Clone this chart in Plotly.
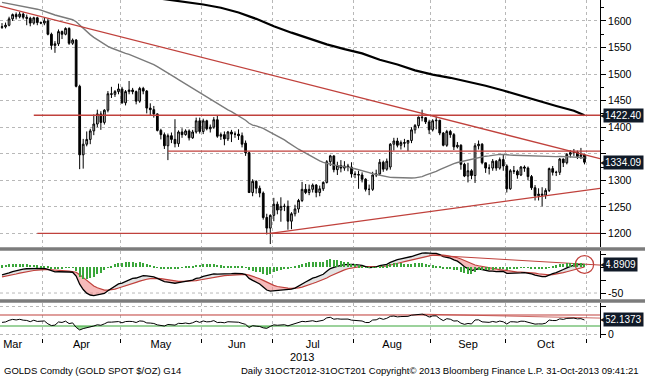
import numpy as np
import pandas as pd
import plotly.graph_objects as go

# ---------------- data ----------------
# closes before the visible window (only used to warm up the 50d MA, MACD and RSI)
WARMUP_CLOSE = [1688, 1664, 1656, 1646, 1659, 1655, 1677, 1662, 1669, 1683, 1682, 1689, 1687, 1692, 1692, 1685,
                1669, 1657, 1654, 1662, 1677, 1663,
                1667, 1674, 1675, 1677, 1671, 1667, 1649, 1648, 1645, 1636, 1609, 1610, 1603, 1564, 1577, 1572,
                1595, 1614, 1596, 1578,
                1576, 1572, 1574, 1583, 1577, 1578, 1577, 1590, 1588]

DATES = pd.bdate_range("2013-03-14", "2013-10-31")

OPEN = [1588, 1589, 1592, 1604, 1612, 1608, 1613, 1607, 1605, 1596, 1606, 1597,
        1596, 1600, 1575, 1554, 1557, 1580, 1575, 1586, 1558, 1564, 1477, 1348, 1368, 1377, 1393, 1406, 1425, 1409, 1432, 1463, 1462, 1467,
        1472, 1446, 1467, 1470, 1467, 1449, 1473, 1468, 1436, 1433, 1425, 1394, 1386, 1365, 1384, 1377, 1369, 1391, 1386, 1393, 1380, 1391, 1412,
        1392, 1412, 1397, 1400, 1414, 1383, 1386, 1378, 1391, 1387, 1387, 1384, 1370, 1352, 1277, 1298, 1285, 1276, 1230, 1210,
        1234, 1255, 1244, 1251, 1251, 1223, 1237, 1246, 1262, 1283, 1277, 1283, 1291, 1277, 1284, 1296, 1335, 1346, 1320, 1328, 1323, 1327, 1325,
        1312, 1311, 1310, 1302, 1283, 1283, 1310, 1312, 1334, 1321, 1325, 1368, 1374, 1366, 1371, 1370, 1375, 1395, 1403, 1419, 1418, 1410,
        1395, 1412, 1413, 1389, 1366, 1392, 1386, 1363, 1366, 1330, 1308, 1318, 1309, 1365, 1368, 1333, 1323, 1323, 1336, 1323, 1339,
        1327, 1284, 1318, 1317, 1310, 1325, 1323, 1307, 1286, 1271, 1274, 1272, 1281, 1322, 1315, 1315, 1340, 1333, 1349, 1352, 1353, 1345, 1348]
HIGH = [1596, 1597, 1608, 1614, 1616, 1617, 1616, 1612, 1608, 1608, 1608, 1599,
        1606, 1604, 1578, 1562, 1584, 1582, 1588, 1588, 1567, 1566, 1480, 1378, 1392, 1397, 1424, 1433, 1430, 1434, 1468, 1476, 1470, 1482,
        1476, 1470, 1487, 1474, 1469, 1476, 1476, 1470, 1445, 1440, 1426, 1397, 1390, 1388, 1390, 1415, 1394, 1398, 1396, 1396, 1395, 1418, 1418,
        1416, 1414, 1405, 1419, 1423, 1390, 1392, 1393, 1395, 1392, 1396, 1390, 1375, 1354, 1302, 1300, 1290, 1279, 1237, 1236,
        1267, 1260, 1268, 1256, 1262, 1240, 1254, 1265, 1297, 1293, 1292, 1294, 1293, 1290, 1298, 1338, 1348, 1347, 1335, 1338, 1336, 1331, 1334,
        1317, 1318, 1315, 1304, 1292, 1316, 1320, 1340, 1337, 1341, 1370, 1380, 1380, 1375, 1378, 1376, 1400, 1406, 1420, 1433, 1419, 1414,
        1415, 1420, 1414, 1391, 1395, 1395, 1389, 1372, 1368, 1333, 1333, 1321, 1370, 1375, 1370, 1333, 1330, 1340, 1338, 1343, 1348,
        1330, 1321, 1327, 1320, 1327, 1328, 1326, 1310, 1291, 1285, 1287, 1285, 1324, 1327, 1318, 1342, 1341, 1351, 1357, 1359, 1356, 1361, 1350]
LOW = [1585, 1586, 1590, 1600, 1603, 1605, 1603, 1592, 1590, 1593, 1592, 1594,
       1592, 1573, 1546, 1540, 1553, 1566, 1573, 1555, 1555, 1475, 1321, 1322, 1364, 1368, 1385, 1400, 1395, 1405, 1428, 1455, 1457, 1462,
       1444, 1441, 1462, 1462, 1443, 1446, 1462, 1426, 1422, 1418, 1392, 1377, 1359, 1338, 1370, 1362, 1363, 1380, 1384, 1375, 1378, 1388, 1388,
       1387, 1394, 1390, 1397, 1380, 1376, 1366, 1374, 1372, 1380, 1376, 1362, 1346, 1276, 1270, 1275, 1268, 1226, 1198, 1180,
       1223, 1236, 1222, 1242, 1207, 1208, 1232, 1239, 1259, 1274, 1272, 1277, 1268, 1270, 1280, 1294, 1327, 1315, 1310, 1315, 1318, 1317, 1305,
       1304, 1284, 1296, 1279, 1272, 1280, 1306, 1310, 1316, 1318, 1320, 1356, 1362, 1358, 1362, 1355, 1370, 1388, 1398, 1411, 1406, 1387,
       1392, 1396, 1385, 1364, 1363, 1380, 1357, 1360, 1320, 1306, 1296, 1302, 1295, 1358, 1330, 1314, 1311, 1318, 1318, 1320, 1318,
       1277, 1282, 1312, 1303, 1308, 1316, 1300, 1282, 1262, 1262, 1251, 1265, 1278, 1309, 1308, 1310, 1325, 1330, 1343, 1346, 1340, 1340, 1330]
CLOSE = [1589, 1592, 1604, 1612, 1608, 1613, 1607, 1605, 1596, 1606, 1597, 1596,
         1600, 1575, 1554, 1557, 1580, 1575, 1586, 1558, 1564, 1477, 1348, 1368, 1377, 1393, 1406, 1425, 1409, 1432, 1463, 1462, 1467, 1472,
         1446, 1467, 1470, 1467, 1449, 1473, 1468, 1436, 1433, 1425, 1394, 1386, 1365, 1384, 1377, 1369, 1391, 1386, 1393, 1380, 1391, 1412, 1392,
         1412, 1397, 1400, 1414, 1383, 1386, 1378, 1391, 1387, 1387, 1384, 1368, 1352, 1277, 1298, 1285, 1276, 1230, 1210, 1234,
         1255, 1244, 1251, 1251, 1223, 1237, 1246, 1262, 1283, 1277, 1283, 1291, 1277, 1284, 1296, 1335, 1346, 1320, 1328, 1323, 1327, 1325, 1312,
         1311, 1310, 1302, 1283, 1283, 1310, 1312, 1334, 1321, 1336, 1368, 1374, 1366, 1371, 1370, 1375, 1395, 1403, 1419, 1418, 1410, 1395,
         1412, 1413, 1389, 1366, 1392, 1386, 1363, 1366, 1330, 1308, 1318, 1309, 1365, 1368, 1333, 1323, 1323, 1336, 1323, 1339, 1327,
         1284, 1318, 1317, 1310, 1325, 1323, 1307, 1286, 1271, 1274, 1272, 1281, 1322, 1315, 1315, 1340, 1333, 1349, 1352, 1353, 1345, 1348, 1334.09]

# 200-day moving average
MA200_DATES = ["2013-03-14", "2013-04-01", "2013-04-15", "2013-05-01", "2013-05-13", "2013-05-20", "2013-05-27",
               "2013-06-03", "2013-06-10", "2013-06-17", "2013-06-24", "2013-07-01", "2013-07-08", "2013-07-15",
               "2013-07-22", "2013-07-29", "2013-08-05", "2013-08-12", "2013-08-19", "2013-08-26", "2013-09-02",
               "2013-09-09", "2013-09-16", "2013-09-23", "2013-09-30", "2013-10-07", "2013-10-14", "2013-10-21",
               "2013-10-28", "2013-10-31"]
MA200 = [1672, 1667, 1661, 1652, 1645, 1641, 1636, 1631, 1625, 1616, 1604, 1590, 1578, 1567, 1556, 1547, 1539,
         1527, 1518, 1507, 1499, 1493, 1486, 1478, 1469, 1459, 1449, 1440, 1431, 1422.4]

# drawn support / resistance levels
LEVELS = [1422.40, 1355.0, 1200.0]
LEVEL_START = ["2013-03-27", "2013-05-20", "2013-03-28"]
# drawn trend lines (two anchor points each)
TREND_DOWN_DATES, TREND_DOWN_VALS = ["2013-03-21", "2013-08-28"], [1618.7, 1426.0]
TREND_UP_DATES, TREND_UP_VALS = ["2013-06-28", "2013-10-31"], [1200.0, 1281.0]
MACD_TREND_DATES, MACD_TREND_VALS = ["2013-08-30", "2013-10-31"], [23.0, 5.5]
RSI_TREND_DATES, RSI_TREND_VALS = ["2013-08-28", "2013-10-31"], [73.0, 60.0]

LAST_PRICE_TXT, MA200_TXT, MACD_TXT, RSI_TXT = "1334.09", "1422.40", "4.8909", "52.1373"
LAST_PRICE, MACD_LAST, RSI_LAST = 1334.09, 4.8909, 52.1373

PRICE_TICKS = [1200, 1250, 1300, 1350, 1400, 1450, 1500, 1550, 1600]
PRICE_TICKTEXT = ["1200", "1250", "1300", "", "1400", "1450", "1500", "1550", "1600"]

# ---------------- derived series ----------------
n = len(DATES)
k = np.arange(n)
pos = {d: i for i, d in enumerate(DATES.strftime("%Y-%m-%d"))}
allc = np.array(WARMUP_CLOSE + CLOSE, dtype=float)
nw = len(WARMUP_CLOSE)

ma50 = pd.Series(allc).rolling(50).mean().values[nw:]


def ema(x, span):
    a = 2.0 / (span + 1)
    out = np.empty_like(x)
    out[0] = x[0]
    for i in range(1, len(x)):
        out[i] = a * x[i] + (1 - a) * out[i - 1]
    return out


macd_all = ema(allc, 12) - ema(allc, 26)
sig_all = ema(macd_all, 9)
macd, sig = macd_all[nw:], sig_all[nw:]
hist = macd - sig

d = np.diff(allc)
g, l_ = np.clip(d, 0, None), np.clip(-d, 0, None)
ag, al = np.empty(len(d)), np.empty(len(d))
ag[13], al[13] = g[:14].mean(), l_[:14].mean()
for i in range(14, len(d)):
    ag[i] = (ag[i - 1] * 13 + g[i]) / 14
    al[i] = (al[i - 1] * 13 + l_[i]) / 14
rsi_all = 100 - 100 / (1 + ag / np.where(al == 0, 1e-9, al))
rsi = np.concatenate([[np.nan], rsi_all])[nw:]

months = DATES.month
bounds = [i - 0.5 for i in range(1, n) if months[i] != months[i - 1]] + [n - 0.5]
mstarts = [0] + [i for i in range(1, n) if months[i] != months[i - 1]]
mends = mstarts[1:] + [n]
label_pos = [(s + e - 1) / 2 for s, e in zip(mstarts, mends)]
label_pos[0] = 3.0  # partially visible first month
label_txt = [DATES[s].strftime("%b") for s in mstarts]

XR = [-0.57, 169.4]

RED = "#c0413c"
GRID = "#b8b8b8"
BOX = "#101a28"
FONT = "Liberation Sans, Arial, sans-serif"

fig = go.Figure()

# ---------------- main panel ----------------
fig.add_trace(go.Scatter(x=[pos[s] for s in MA200_DATES], y=MA200, mode="lines",
                         line=dict(color="black", width=2.2), xaxis="x", yaxis="y"))
fig.add_trace(go.Scatter(x=k, y=ma50, mode="lines", line=dict(color="#7a7a7a", width=1.4),
                         xaxis="x", yaxis="y"))
for lv, st in zip(LEVELS, LEVEL_START):
    fig.add_trace(go.Scatter(x=[pos[st], XR[1]], y=[lv, lv], mode="lines",
                             line=dict(color=RED, width=1.4), xaxis="x", yaxis="y"))
xa, xb = pos[TREND_DOWN_DATES[0]], pos[TREND_DOWN_DATES[1]]
sl = (TREND_DOWN_VALS[1] - TREND_DOWN_VALS[0]) / (xb - xa)
fig.add_trace(go.Scatter(x=XR, y=[TREND_DOWN_VALS[0] + sl * (x - xa) for x in XR], mode="lines",
                         line=dict(color=RED, width=1.3), xaxis="x", yaxis="y"))
xa, xb = pos[TREND_UP_DATES[0]], pos[TREND_UP_DATES[1]]
sl = (TREND_UP_VALS[1] - TREND_UP_VALS[0]) / (xb - xa)
fig.add_trace(go.Scatter(x=[xa, XR[1]], y=[TREND_UP_VALS[0], TREND_UP_VALS[0] + sl * (XR[1] - xa)], mode="lines",
                         line=dict(color=RED, width=1.3), xaxis="x", yaxis="y"))
fig.add_trace(go.Candlestick(x=k, open=OPEN, high=HIGH, low=LOW, close=CLOSE,
                             increasing=dict(line=dict(color="black", width=1), fillcolor="#c4c4c4"),
                             decreasing=dict(line=dict(color="black", width=1), fillcolor="black"),
                             whiskerwidth=0, xaxis="x", yaxis="y"))

# ---------------- MACD panel ----------------
fig.add_trace(go.Bar(x=k, y=hist, marker=dict(color="#3aa63a", line=dict(width=0)), width=0.3,
                     xaxis="x2", yaxis="y4"))
fig.add_trace(go.Scatter(x=k, y=sig, mode="lines", line=dict(width=0), xaxis="x2", yaxis="y2"))
fig.add_trace(go.Scatter(x=k, y=np.minimum(macd, sig), mode="lines", line=dict(width=0), fill="tonexty",
                         fillcolor="rgba(240,140,140,0.6)", xaxis="x2", yaxis="y2"))
fig.add_trace(go.Scatter(x=k, y=sig, mode="lines", line=dict(width=0), xaxis="x2", yaxis="y2"))
fig.add_trace(go.Scatter(x=k, y=np.maximum(macd, sig), mode="lines", line=dict(width=0), fill="tonexty",
                         fillcolor="rgba(200,200,200,0.5)", xaxis="x2", yaxis="y2"))
fig.add_trace(go.Scatter(x=k, y=sig, mode="lines", line=dict(color=RED, width=1.2), xaxis="x2", yaxis="y2"))
fig.add_trace(go.Scatter(x=k, y=macd, mode="lines", line=dict(color="black", width=1.3), xaxis="x2", yaxis="y2"))
xa, xb = pos[MACD_TREND_DATES[0]], pos[MACD_TREND_DATES[1]]
sl = (MACD_TREND_VALS[1] - MACD_TREND_VALS[0]) / (xb - xa)
fig.add_trace(go.Scatter(x=[xa, XR[1]], y=[MACD_TREND_VALS[0], MACD_TREND_VALS[0] + sl * (XR[1] - xa)],
                         mode="lines", line=dict(color=RED, width=1), xaxis="x2", yaxis="y2"))

# ---------------- RSI panel ----------------
fig.add_trace(go.Scatter(x=XR, y=[30, 30], mode="lines", line=dict(color="#3aa63a", width=1.2), xaxis="x3", yaxis="y3"))
fig.add_trace(go.Scatter(x=k, y=np.minimum(rsi, 30), mode="lines", line=dict(width=0), fill="tonexty",
                         fillcolor="rgba(80,190,80,0.6)", xaxis="x3", yaxis="y3"))
fig.add_trace(go.Scatter(x=XR, y=[70, 70], mode="lines", line=dict(color=RED, width=1.2), xaxis="x3", yaxis="y3"))
fig.add_trace(go.Scatter(x=k, y=np.maximum(rsi, 70), mode="lines", line=dict(width=0), fill="tonexty",
                         fillcolor="rgba(240,140,140,0.6)", xaxis="x3", yaxis="y3"))
xa, xb = pos[RSI_TREND_DATES[0]], pos[RSI_TREND_DATES[1]]
sl = (RSI_TREND_VALS[1] - RSI_TREND_VALS[0]) / (xb - xa)
fig.add_trace(go.Scatter(x=[xa, XR[1]], y=[RSI_TREND_VALS[0], RSI_TREND_VALS[0] + sl * (XR[1] - xa)],
                         mode="lines", line=dict(color=RED, width=0.8), xaxis="x3", yaxis="y3"))
fig.add_trace(go.Scatter(x=k, y=rsi, mode="lines", line=dict(color="black", width=1), xaxis="x3", yaxis="y3"))

# circle on MACD crossover
cx, cy = k[-1], MACD_LAST
fig.add_shape(type="circle", xref="x2", yref="y2", x0=cx - 2.6, x1=cx + 2.6, y0=cy - 17, y1=cy + 17,
              line=dict(color=RED, width=1.2))

# ---------------- axes ----------------
common_x = dict(range=XR, showgrid=False, zeroline=False, showline=False, automargin=False,
                minor=dict(tickvals=bounds, showgrid=True, gridcolor=GRID, griddash="dot", gridwidth=1))
yc = dict(side="right", ticks="outside", ticklen=5, tickcolor="black", showline=True, linecolor="black",
          linewidth=1, zeroline=False, tickfont=dict(size=10.5), automargin=False)
fig.update_layout(
    template="none",
    width=645, height=376, margin=dict(l=0, r=45, t=0, b=38, autoexpand=False),
    plot_bgcolor="white", paper_bgcolor="white", showlegend=False, bargap=0,
    font=dict(family=FONT, size=11, color="black"),
    xaxis=dict(common_x, anchor="y", showticklabels=False, rangeslider=dict(visible=False)),
    xaxis2=dict(common_x, anchor="y2", showticklabels=False, matches="x"),
    xaxis3=dict(range=XR, anchor="y3", matches="x", zeroline=False, showgrid=False, automargin=False,
                tickvals=label_pos, ticktext=label_txt, ticks="", tickfont=dict(size=11),
                ticklabelstandoff=-2,
                minor=dict(tickvals=bounds, showgrid=True, gridcolor=GRID, griddash="dot",
                           ticks="outside", ticklen=4, tickcolor="black")),
    yaxis=dict(yc, domain=[0.2692, 1], range=[1174.4, 1639.5], tickvals=PRICE_TICKS,
               ticktext=PRICE_TICKTEXT, showgrid=True, gridcolor=GRID, griddash="dot",
               minor=dict(tickvals=[v + 25 for v in PRICE_TICKS], ticks="outside", ticklen=3, tickcolor="black")),
    yaxis2=dict(yc, domain=[0.1154, 0.2574], range=[-61.5, 30.8], tickvals=[25, 0, -25, -50],
                ticktext=["", "", "", "-50"], showgrid=False),
    yaxis4=dict(overlaying="y2", range=[-61.5, 30.8], visible=False),
    yaxis3=dict(yc, domain=[0, 0.1036], range=[-13.6, 113.6], tickvals=[0, 100],
                ticktext=["0", ""], showgrid=True, gridcolor=GRID, griddash="dot"),
)
# -50 dotted gridline in MACD panel
fig.add_shape(type="line", xref="x2", yref="y2", x0=XR[0], x1=XR[1], y0=-50, y1=-50,
              line=dict(color=GRID, width=1, dash="dot"), layer="below")

# panel separators
for y0, y1 in [(0.2574, 0.2692), (0.1036, 0.1154)]:
    fig.add_shape(type="rect", xref="paper", yref="paper", x0=0, x1=645 / 600, y0=y0 + 0.001, y1=y1 - 0.001,
                  fillcolor="#7c7c7c", line=dict(width=0))


# value boxes on the right axis
def value_box(yref, yval, txt):
    fig.add_annotation(xref="paper", yref=yref, x=1.0, y=yval, xanchor="left", xshift=3, text=txt,
                       showarrow=False, bgcolor=BOX, font=dict(color="white", size=10, family=FONT),
                       borderpad=1)
    fig.add_annotation(xref="paper", yref=yref, x=1.0, y=yval, xanchor="left", xshift=-1, text="◀",
                       showarrow=False, font=dict(color=BOX, size=8), borderpad=0)


value_box("y", float(MA200[-1]), MA200_TXT)
value_box("y", LAST_PRICE, LAST_PRICE_TXT)
value_box("y2", MACD_LAST, MACD_TXT)
value_box("y3", RSI_LAST, RSI_TXT)

fig.add_annotation(xref="x3", yref="paper", x=85, y=-0.056, text="2013", showarrow=False,
                   font=dict(size=11), yanchor="middle")
fig.add_annotation(xref="paper", yref="paper", x=0.004, y=-0.095, xanchor="left", yanchor="middle",
                   text="GOLDS Comdty (GOLD SPOT $/OZ) G14", showarrow=False, font=dict(size=9.5))
fig.add_annotation(xref="paper", yref="paper", x=641 / 600, y=-0.095, xanchor="right", yanchor="middle",
                   text="Daily 31OCT2012-31OCT201 Copyright\u00a9 2013 Bloomberg Finance L.P. 31-Oct-2013 09:41:21",
                   showarrow=False, font=dict(size=9.5))

fig.write_html("out.html", config={"displayModeBar": False},
               post_script="document.body.style.margin='0';document.body.style.overflow='hidden';")
